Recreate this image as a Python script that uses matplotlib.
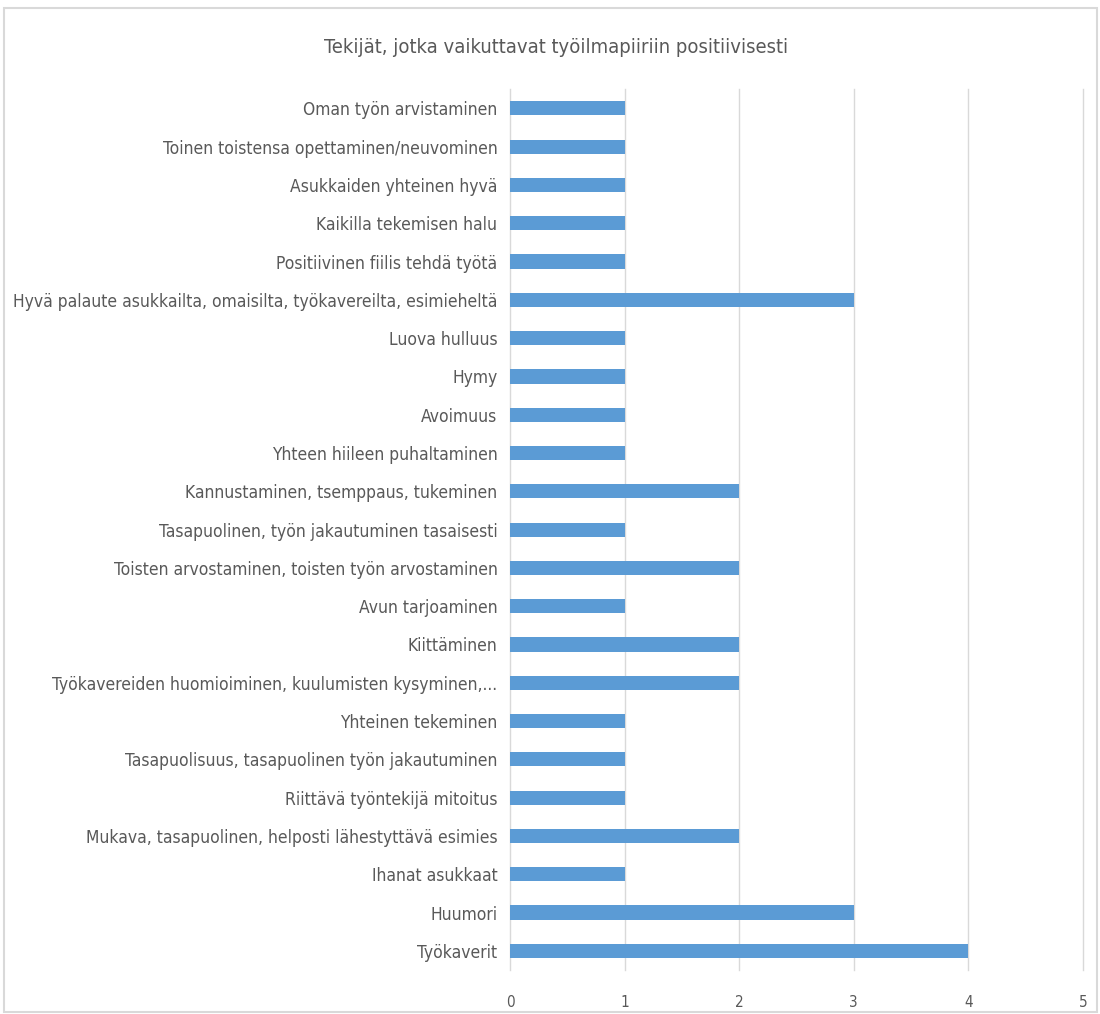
import matplotlib.pyplot as plt
from matplotlib.patches import Rectangle

# categories listed bottom to top, as drawn
categories = [
    'Työkaverit',
    'Huumori',
    'Ihanat asukkaat',
    'Mukava, tasapuolinen, helposti lähestyttävä esimies',
    'Riittävä työntekijä mitoitus',
    'Tasapuolisuus, tasapuolinen työn jakautuminen',
    'Yhteinen tekeminen',
    'Työkavereiden huomioiminen, kuulumisten kysyminen,...',
    'Kiittäminen',
    'Avun tarjoaminen',
    'Toisten arvostaminen, toisten työn arvostaminen',
    'Tasapuolinen, työn jakautuminen tasaisesti',
    'Kannustaminen, tsemppaus, tukeminen',
    'Yhteen hiileen puhaltaminen',
    'Avoimuus',
    'Hymy',
    'Luova hulluus',
    'Hyvä palaute asukkailta, omaisilta, työkavereilta, esimieheltä',
    'Positiivinen fiilis tehdä työtä',
    'Kaikilla tekemisen halu',
    'Asukkaiden yhteinen hyvä',
    'Toinen toistensa opettaminen/neuvominen',
    'Oman työn arvistaminen',
]
values = [4, 3, 1, 2, 1, 1, 1, 2, 2, 1, 2, 1, 2, 1, 1, 1, 1, 3, 1, 1, 1, 1, 1]
xticks = [0, 1, 2, 3, 4, 5]

plt.rcParams['font.family'] = ['DejaVu Sans']
plt.rcParams['font.stretch'] = 'condensed'
text_color = '#595959'

fig = plt.figure(figsize=(11, 10.14), dpi=100)
ax = fig.add_axes([0.4636, 0.0434, 0.5209, 0.8686])

ax.barh(range(len(categories)), values, height=0.37, color='#5B9BD5', zorder=3)
ax.set_xlim(0, 5)
ax.set_ylim(-0.5, len(categories) - 0.5)
ax.set_xticks(xticks)
ax.set_yticks(range(len(categories)))
ax.set_yticklabels(categories, fontsize=12.5, color=text_color, stretch='condensed')
for lab in ax.get_xticklabels():
    lab.set_stretch('condensed')
ax.tick_params(axis='x', labelsize=11, colors=text_color, length=0, pad=18)
ax.tick_params(axis='y', length=0, pad=9)
ax.grid(axis='x', color='#D9D9D9', linewidth=1, zorder=0)
for gl in ax.get_xgridlines():
    gl.set_clip_on(False)
for s in ax.spines.values():
    s.set_visible(False)

fig.text(0.5055, 0.953, 'Tekijät, jotka vaikuttavat työilmapiiriin positiivisesti',
         ha='center', va='center', fontsize=14.5, color=text_color, stretch='condensed')

# chart border
fig.patches.append(Rectangle((0.004, 0.002), 0.993, 0.99, transform=fig.transFigure,
                             fill=False, edgecolor='#D9D9D9', linewidth=1.5))

fig.savefig('out.png', dpi=100, facecolor='white')
